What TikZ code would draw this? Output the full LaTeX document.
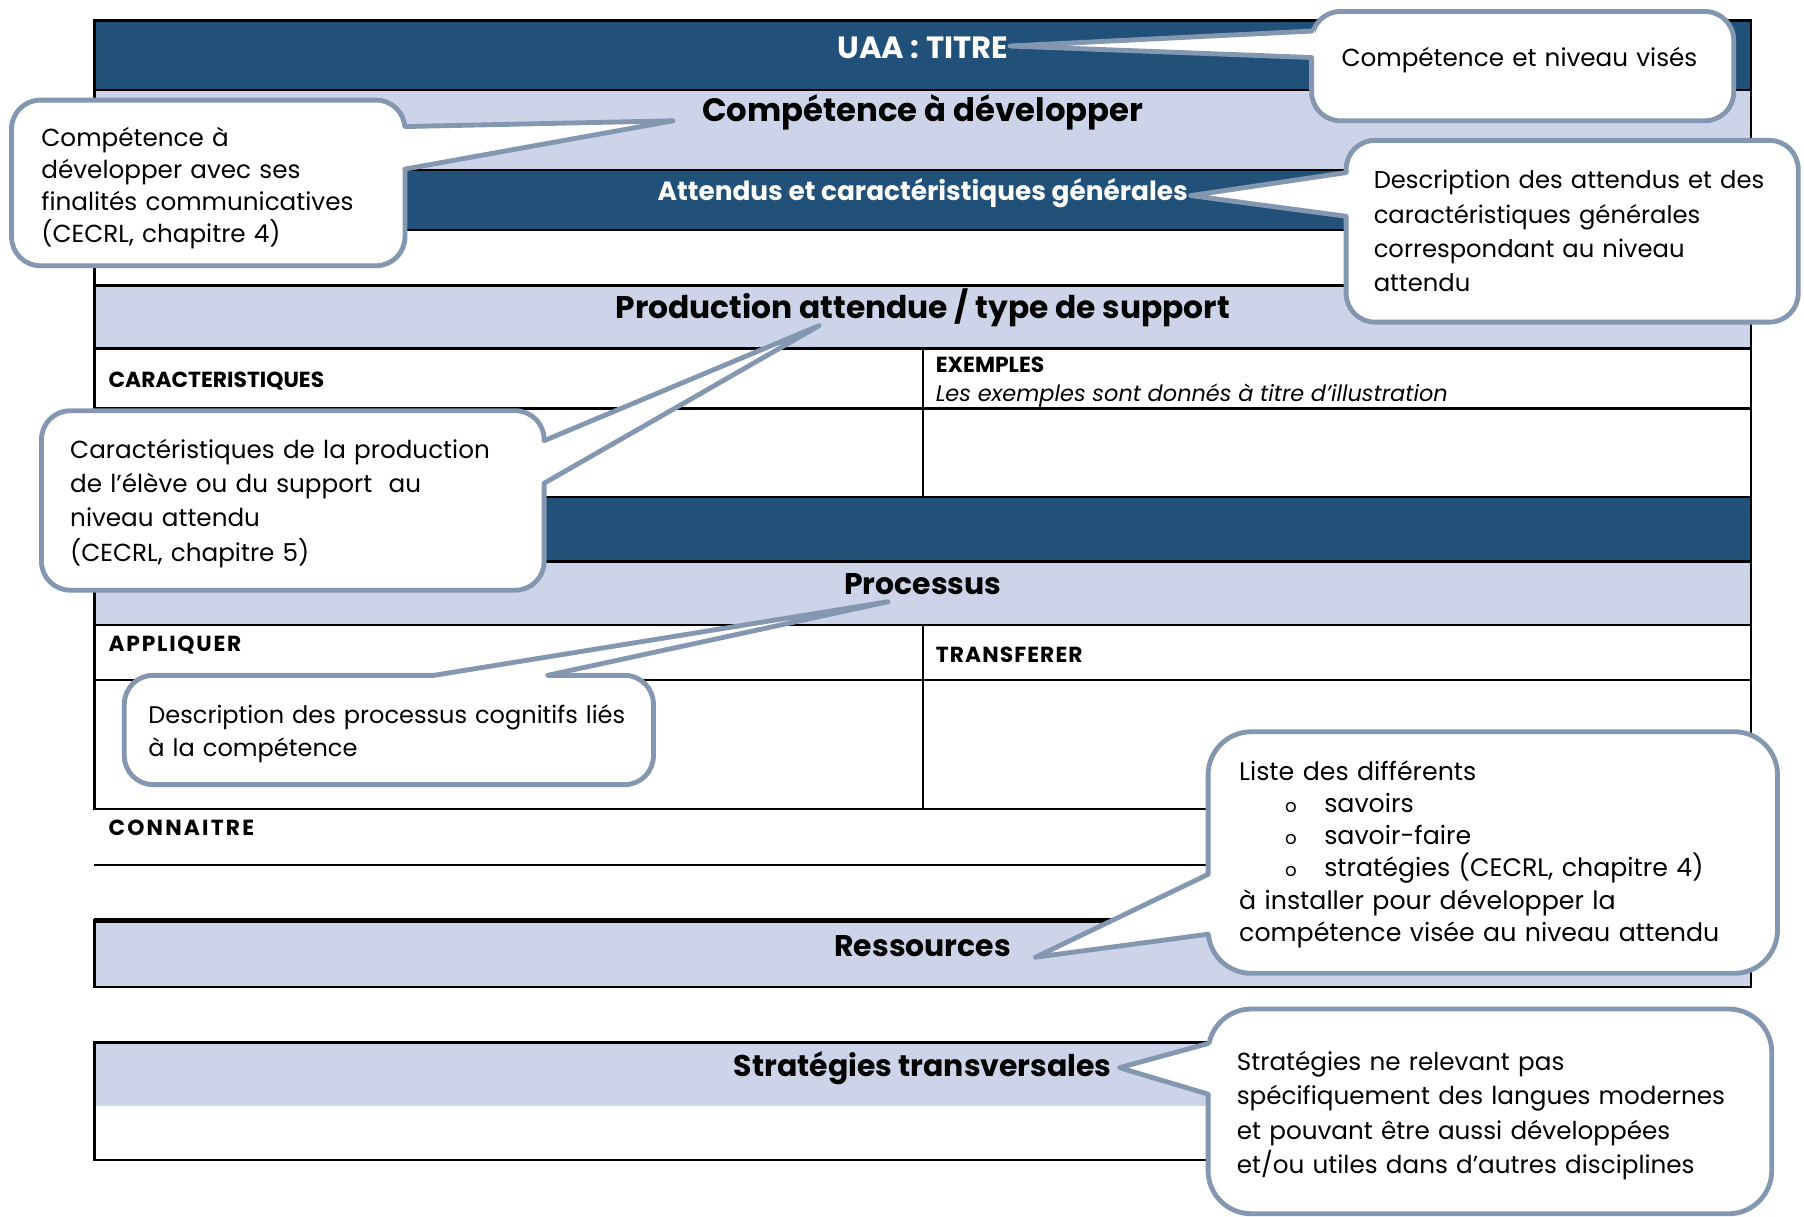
\documentclass[tikz,border=0pt]{standalone}
\usepackage{fontspec}
\setmainfont{Poppins}

\definecolor{navy}{HTML}{215078}
\definecolor{lav}{HTML}{CDD4E9}
\definecolor{calloutgray}{HTML}{8497B0}

\tikzset{
  tabline/.style={line width=1.2pt},
  darkhead/.style={anchor=base, text=white, font=\bfseries\fontsize{15.2}{17}\selectfont},
  lighthead/.style={anchor=base, font=\bfseries\fontsize{14.8}{17}\selectfont},
  celllabel/.style={anchor=base west, inner xsep=0pt, font=\bfseries\fontsize{10.8}{12}\selectfont},
  bubble/.style={draw=calloutgray, line width=2.4pt, fill=white, rounded corners=0.5cm,
    outer sep=0pt, inner xsep=0.5cm, align=left, font=\fontsize{12.2}{17}\selectfont},
  pointer/.style={draw=calloutgray, line width=2.4pt, line join=round, line cap=round}
}

\begin{document}
\begin{tikzpicture}[x=0.02cm, y=-0.02cm]
\useasboundingbox (0,0) rectangle (1568,1057);

% main table
\fill[navy] (82,18) rectangle (1522,78);
\fill[lav] (82,78) rectangle (1522,148);
\fill[navy] (82,148) rectangle (1522,200);
\fill[lav] (82,248) rectangle (1522,303);
\fill[navy] (82,432) rectangle (1522,488);
\fill[lav] (82,488) rectangle (1522,543);
\draw[tabline] (82,18) rectangle (1522,703);
\foreach \y in {78,148,200,248,303,355,432,488,543,591}
  \draw[tabline] (82,\y) -- (1522,\y);
\draw[tabline] (82,752) -- (1522,752);
\draw[tabline] (802,303) -- (802,432);
\draw[tabline] (802,543) -- (802,703);

\node[darkhead] (titre) at (802,51) {UAA : TITRE};
\node[lighthead, font=\bfseries\fontsize{16}{18}\selectfont] (competence) at (802,106) {Compétence à développer};
\node[darkhead, font=\bfseries\fontsize{13.05}{15}\selectfont] (attendus) at (802,174) {Attendus et caractéristiques générales};
\node[lighthead, font=\bfseries\fontsize{15.5}{18}\selectfont] (production) at (802,277) {Production attendue / type de support};
\node[celllabel] (caract) at (94,337) {CARACTERISTIQUES};
\node[celllabel] (exemples) at (813,324) {EXEMPLES};
\node[anchor=base west, inner xsep=0pt, font=\itshape\fontsize{11.1}{13}\selectfont] (illus) at (813,349) {Les exemples sont donnés à titre d'illustration};
\node[lighthead] (processus) at (802,517) {Processus};
\node[celllabel] (appliquer) at (94,566) {\addfontfeature{LetterSpace=8}APPLIQUER};
\node[celllabel] (transferer) at (813,576) {\addfontfeature{LetterSpace=5}TRANSFERER};
\node[celllabel] (connaitre) at (94,726) {\addfontfeature{LetterSpace=10}CONNAITRE};

% ressources and strategies
\fill[lav] (82,800) rectangle (1522,858);
\draw[tabline] (82,800) rectangle (1522,858);
\draw[line width=2.6pt] (82,800) -- (1522,800);
\node[lighthead] (ressources) at (802,831) {Ressources};

\fill[lav] (82,906) rectangle (1522,961);
\draw[tabline] (82,906) rectangle (1522,1008);
\node[lighthead] (strategies) at (802,936) {Stratégies transversales};

% callouts
\coordinate (tipTitre) at (878,40);
\coordinate (tipCompetence) at (585,105);
\coordinate (tipAttendus) at (1035,170);
\coordinate (tipProduction) at (712,283);
\coordinate (tipProcessus) at (772,523);
\coordinate (tipRessources) at (900,832);
\coordinate (tipStrategies) at (973,928);

\node[bubble, inner xsep=0.52cm, minimum width=7.34cm, minimum height=1.9cm, text width=6.3cm] (bubTitre) at (1323.5,57.5)
  {Compétence et niveau visés\vspace*{0.2cm}};
\fill[white] (bubTitre.west |- 0,27) -- (tipTitre) -- (bubTitre.west |- 0,50) -- cycle;
\draw[white, line width=3pt] (bubTitre.west |- 0,27) -- (bubTitre.west |- 0,50);
\draw[pointer] (bubTitre.west |- 0,27) -- (tipTitre) -- (bubTitre.west |- 0,50);

\node[bubble, inner xsep=0.52cm, font=\fontsize{12.2}{15.9}\selectfont, minimum width=6.84cm, minimum height=2.88cm, text width=5.8cm] (bubCompetence) at (181,159)
  {Compétence à\\ développer avec ses\\ finalités communicatives\\ (CECRL, chapitre 4)\vspace*{-0.18cm}};
\fill[white] (bubCompetence.east |- 0,110) -- (tipCompetence) -- (bubCompetence.east |- 0,147) -- cycle;
\draw[white, line width=3pt] (bubCompetence.east |- 0,110) -- (bubCompetence.east |- 0,147);
\draw[pointer] (bubCompetence.east |- 0,110) -- (tipCompetence) -- (bubCompetence.east |- 0,147);

\node[bubble, inner xsep=0.48cm, font=\fontsize{12}{17}\selectfont, minimum width=7.86cm, minimum height=3.16cm, text width=6.9cm] (bubAttendus) at (1366.5,201)
  {Description des attendus et des\\ caractéristiques générales\\ correspondant au niveau\\ attendu};
\fill[white] (bubAttendus.west |- 0,150) -- (tipAttendus) -- (bubAttendus.west |- 0,188) -- cycle;
\draw[white, line width=3pt] (bubAttendus.west |- 0,150) -- (bubAttendus.west |- 0,188);
\draw[pointer] (bubAttendus.west |- 0,150) -- (tipAttendus) -- (bubAttendus.west |- 0,188);

\node[bubble, minimum width=8.74cm, minimum height=3.12cm, text width=7.74cm] (bubProduction) at (254.5,435)
  {Caractéristiques de la production\\ de l'élève ou du support\ \ au\\ niveau attendu\\ (CECRL, chapitre 5)\vspace*{-0.1cm}};
\fill[white] (bubProduction.east |- 0,383) -- (tipProduction) -- (bubProduction.east |- 0,420) -- cycle;
\draw[white, line width=3pt] (bubProduction.east |- 0,383) -- (bubProduction.east |- 0,420);
\draw[pointer] (bubProduction.east |- 0,383) -- (tipProduction) -- (bubProduction.east |- 0,420);

\node[bubble, inner xsep=0.42cm, font=\fontsize{11.9}{16.4}\selectfont, minimum width=9.2cm, minimum height=1.9cm, text width=8.36cm] (bubProcessus) at (338,634.5)
  {Description des processus cognitifs liés\\ à la compétence\vspace*{-0.12cm}};
\fill[white] (377,0 |- bubProcessus.north) -- (tipProcessus) -- (476,0 |- bubProcessus.north) -- cycle;
\draw[white, line width=3pt] (377,0 |- bubProcessus.north) -- (476,0 |- bubProcessus.north);
\draw[pointer] (377,0 |- bubProcessus.north) -- (tipProcessus) -- (476,0 |- bubProcessus.north);

\node[bubble, rounded corners=0.75cm, inner xsep=0.54cm, font=\fontsize{12.5}{15.9}\selectfont, minimum width=9.9cm, minimum height=4.2cm, text width=8.82cm] (bubRessources) at (1297.5,741)
  {Liste des différents\\
   \hspace*{0.8cm}\makebox[0.68cm][l]{\small o}savoirs\\
   \hspace*{0.8cm}\makebox[0.68cm][l]{\small o}savoir-faire\\
   \hspace*{0.8cm}\makebox[0.68cm][l]{\small o}stratégies (CECRL, chapitre 4)\\
   à installer pour développer la\\ compétence visée au niveau attendu\vspace*{-0.06cm}};
\fill[white] (bubRessources.west |- 0,760) -- (tipRessources) -- (bubRessources.west |- 0,812) -- cycle;
\draw[white, line width=3pt] (bubRessources.west |- 0,760) -- (bubRessources.west |- 0,812);
\draw[pointer] (bubRessources.west |- 0,760) -- (tipRessources) -- (bubRessources.west |- 0,812);

\node[bubble, rounded corners=0.75cm, minimum width=9.8cm, minimum height=3.56cm, text width=8.8cm] (bubStrategies) at (1295,966)
  {Stratégies ne relevant pas\\ spécifiquement des langues modernes\\ et pouvant être aussi développées\\ et/ou utiles dans d'autres disciplines\vspace*{-0.14cm}};
\fill[white] (bubStrategies.west |- 0,907) -- (tipStrategies) -- (bubStrategies.west |- 0,951) -- cycle;
\draw[white, line width=3pt] (bubStrategies.west |- 0,907) -- (bubStrategies.west |- 0,951);
\draw[pointer] (bubStrategies.west |- 0,907) -- (tipStrategies) -- (bubStrategies.west |- 0,951);
\end{tikzpicture}
\end{document}
